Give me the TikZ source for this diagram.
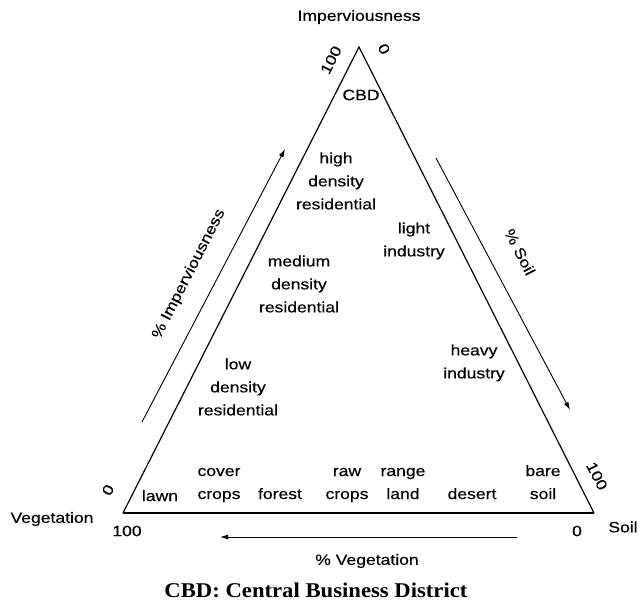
\documentclass[tikz,border=0pt]{standalone}
\usepackage{fontspec}
\setmainfont{Liberation Sans}[FakeStretch=1.17,FakeBold=0.35]
\newfontfamily\titlefont{Liberation Serif}[FakeStretch=1.08]
\usetikzlibrary{arrows.meta}

\begin{document}
\begin{tikzpicture}[x=1pt,y=-1pt]
  \useasboundingbox (0,0) rectangle (638,603);

  \coordinate (top)   at (359,47);
  \coordinate (left)  at (123,513);
  \coordinate (right) at (594,513);
  \draw[line width=1.2pt] (left) -- (top) -- (right);
  \draw[line width=2pt] (left) -- (right);

  \begin{scope}[every node/.style={font=\fontsize{15}{23}\selectfont,inner sep=0pt,align=center}]
    % corners
    \node (imp)  at (359,17)  {Imperviousness};
    \node (veg)  at (52,519)  {Vegetation};
    \node (soil) at (623,527) {Soil};
    \node[rotate=63]  (i100) at (331,60)  {100};
    \node[rotate=-63] (i0)   at (384,49)  {0};
    \node[rotate=63]  (v0)   at (108,490) {0};
    \node[rotate=-63] (s100) at (597,476) {100};
    \node (v100) at (127,531) {100};
    \node (s0)   at (577,531) {0};

    % land cover inside
    \node (cbd)    at (361,95)  {CBD};
    \node (high)   at (336,181) {high\\density\\residential};
    \node (light)  at (414,241) {light\\industry};
    \node (medium) at (299,284) {medium\\density\\residential};
    \node (heavy)  at (474,363) {heavy\\industry};
    \node (low)    at (238,387) {low\\density\\residential};

    \begin{scope}[every node/.append style={anchor=base}]
      \node (lawn)   at (160,501) {lawn};
      \node (cover)  at (219,499) {cover\\crops};
      \node (forest) at (280,499) {forest};
      \node (raw)    at (347,499) {raw\\crops};
      \node (range)  at (403,499) {range\\land};
      \node (desert) at (472,499) {desert};
      \node (bare)   at (543,499) {bare\\soil};
    \end{scope}

    % axis labels
    \node[rotate=63]  (pimp)  at (189,274) {\% Imperviousness};
    \node[rotate=-63] (psoil) at (520,252) {\% Soil};
    \node (pveg) at (367,561) {\% Vegetation};
  \end{scope}

  \begin{scope}[line width=0.9pt,-{Latex[length=8pt,width=5pt]}]
    \coordinate (a1) at (142,422);
    \coordinate (a2) at (285,149);
    \coordinate (b1) at (436,158);
    \coordinate (b2) at (570,410);
    \coordinate (c1) at (517,537);
    \coordinate (c2) at (220,537);
    \draw (a1) -- (a2);
    \draw (b1) -- (b2);
    \draw (c1) -- (c2);
  \end{scope}

  \node[font=\titlefont\bfseries\fontsize{21}{24}\selectfont,inner sep=0pt] (title) at (316,590)
    {CBD: Central Business District};

\end{tikzpicture}
\end{document}
